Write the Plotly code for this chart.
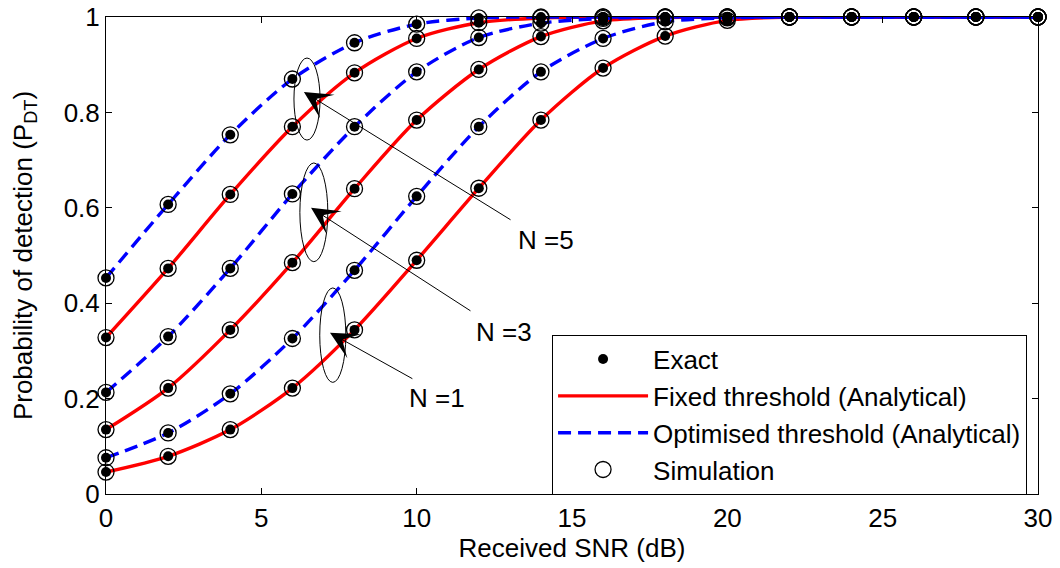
import plotly.graph_objects as go

# Received SNR (dB) sample points
snr = [0, 2, 4, 6, 8, 10, 12, 14, 16, 18, 20, 22, 24, 26, 28, 30]

# Probability of detection, fixed threshold
fixed_n1 = [0.046, 0.079, 0.135, 0.222, 0.344, 0.490, 0.641, 0.784, 0.893, 0.960, 0.993, 1.0, 1.0, 1.0, 1.0, 1.0]
fixed_n3 = [0.135, 0.222, 0.344, 0.485, 0.640, 0.784, 0.890, 0.959, 0.992, 0.999, 1.0, 1.0, 1.0, 1.0, 1.0, 1.0]
fixed_n5 = [0.328, 0.473, 0.628, 0.770, 0.883, 0.955, 0.988, 0.998, 1.0, 1.0, 1.0, 1.0, 1.0, 1.0, 1.0, 1.0]

# Probability of detection, optimised threshold
opt_n1 = [0.076, 0.128, 0.210, 0.326, 0.469, 0.624, 0.770, 0.885, 0.955, 0.990, 0.998, 1.0, 1.0, 1.0, 1.0, 1.0]
opt_n3 = [0.213, 0.330, 0.473, 0.629, 0.770, 0.885, 0.957, 0.987, 0.997, 1.0, 1.0, 1.0, 1.0, 1.0, 1.0, 1.0]
opt_n5 = [0.453, 0.607, 0.753, 0.870, 0.946, 0.985, 0.998, 1.0, 1.0, 1.0, 1.0, 1.0, 1.0, 1.0, 1.0, 1.0]

x_ticks = [0, 5, 10, 15, 20, 25, 30]
y_ticks = [0, 0.2, 0.4, 0.6, 0.8, 1.0]
y_tick_text = ["0", "0.2", "0.4", "0.6", "0.8", "1"]

FONT = "Liberation Sans, Arial, sans-serif"
FS = 26

fig = go.Figure()

fixed_sets = [fixed_n1, fixed_n3, fixed_n5]
opt_sets = [opt_n1, opt_n3, opt_n5]

for i, ys in enumerate(fixed_sets):
    fig.add_trace(go.Scatter(
        x=snr, y=ys, mode="lines",
        line=dict(color="#ff0000", width=3.4, shape="spline", smoothing=0.8),
        name="Fixed threshold (Analytical)",
        legendgroup="fixed", legendrank=2,
        showlegend=(i == 0), cliponaxis=False,
    ))

for i, ys in enumerate(opt_sets):
    fig.add_trace(go.Scatter(
        x=snr, y=ys, mode="lines",
        line=dict(color="#0000ff", width=3.4, dash="13px,7px", shape="spline", smoothing=0.8),
        name="Optimised threshold (Analytical)",
        legendgroup="opt", legendrank=3,
        showlegend=(i == 0), cliponaxis=False,
    ))

all_sets = fixed_sets + opt_sets
xs_all = [x for ys in all_sets for x in snr]
ys_all = [y for ys in all_sets for y in ys]

fig.add_trace(go.Scatter(
    x=xs_all, y=ys_all, mode="markers",
    marker=dict(symbol="circle", size=10, color="black"),
    name="Exact", legendgroup="exact", legendrank=1, cliponaxis=False,
))
fig.add_trace(go.Scatter(
    x=xs_all, y=ys_all, mode="markers",
    marker=dict(symbol="circle-open", size=16, color="black", line=dict(width=1.3, color="black")),
    name="Simulation", legendgroup="sim", legendrank=4, cliponaxis=False,
))

# Ellipses grouping each pair of curves
ellipses = [
    (6.05, 0.742, 6.89, 0.914),
    (6.24, 0.487, 7.14, 0.694),
    (6.88, 0.234, 7.72, 0.432),
]
for x0, y0, x1, y1 in ellipses:
    fig.add_shape(type="circle", xref="x", yref="y", x0=x0, y0=y0, x1=x1, y1=y1,
                  line=dict(color="black", width=1))

# Arrows with their labels: (tip x, tip y, tail x, tail y, label x, label y, text)
arrows = [
    (6.37, 0.843, 13.07, 0.573, 14.15, 0.533, "N =5"),
    (6.60, 0.600, 11.78, 0.382, 12.80, 0.340, "N =3"),
    (7.21, 0.338, 9.91, 0.240, 10.65, 0.202, "N =1"),
]
for tx, ty, ax, ay, lx, ly, txt in arrows:
    fig.add_annotation(x=tx, y=ty, ax=ax, ay=ay, xref="x", yref="y", axref="x", ayref="y",
                       text="", showarrow=True, arrowhead=3, arrowsize=4.6,
                       arrowwidth=1, arrowcolor="black")
    fig.add_annotation(x=lx, y=ly, xref="x", yref="y", text=txt, showarrow=False,
                       font=dict(family=FONT, size=FS, color="black"))

axis_common = dict(
    showline=True, linecolor="black", linewidth=1, mirror="ticks",
    ticks="inside", ticklen=6, tickcolor="black", tickwidth=1,
    showgrid=False, zeroline=False,
    tickfont=dict(family=FONT, size=FS, color="black"),
)

fig.update_xaxes(range=[0, 30], tickvals=x_ticks, ticklabelstandoff=1,
                 title=dict(text="Received SNR (dB)", font=dict(family=FONT, size=FS, color="black"), standoff=1),
                 **axis_common)
fig.update_yaxes(range=[0, 1], tickvals=y_ticks, ticktext=y_tick_text, ticksuffix="\u00a0",
                 title=dict(text="Probability of detection (P<sub>DT</sub>)",
                            font=dict(family=FONT, size=FS, color="black"), standoff=23),
                 **axis_common)

fig.update_layout(
    width=1060, height=568,
    margin=dict(l=106, r=22, t=17, b=74, autoexpand=False),
    paper_bgcolor="white", plot_bgcolor="white",
    font=dict(family=FONT, size=FS, color="black"),
    legend=dict(
        x=0.4786, y=0.334, xanchor="left", yanchor="top",
        bgcolor="white", bordercolor="black", borderwidth=1,
        font=dict(family=FONT, size=FS, color="black"),
        itemwidth=90, tracegroupgap=0,
    ),
)

fig.write_html("out.html")
